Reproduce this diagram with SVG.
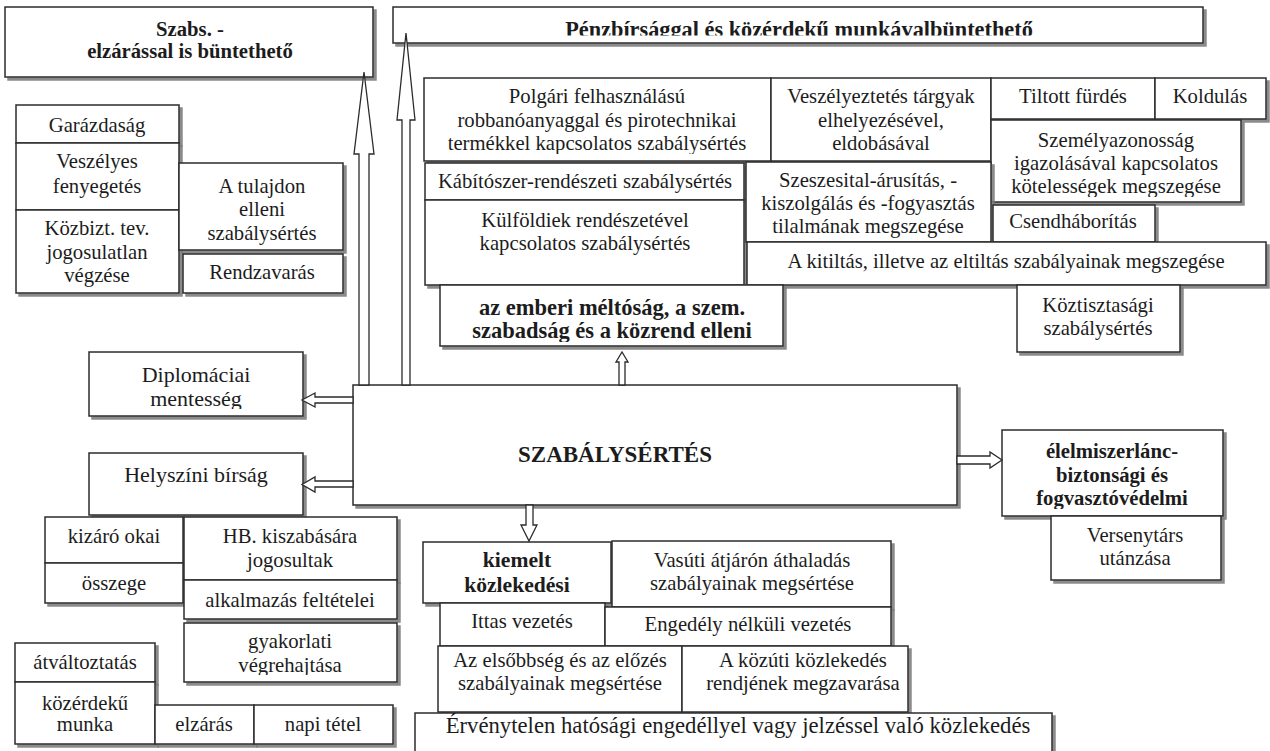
<svg xmlns="http://www.w3.org/2000/svg" width="1270" height="751" viewBox="0 0 1270 751">
<defs>
<filter id="sh" x="-5%" y="-5%" width="115%" height="130%">
<feDropShadow dx="3" dy="3" stdDeviation="0.7" flood-color="#777" flood-opacity="0.85"/>
</filter>
<clipPath id="cp-penz"><rect x="393" y="7" width="810" height="28.5"/></clipPath>
<clipPath id="cp-polgari"><rect x="424" y="78" width="347" height="76"/></clipPath>
<clipPath id="cp-szemely"><rect x="991" y="120" width="250" height="77"/></clipPath>
<clipPath id="cp-emberi"><rect x="440" y="285" width="343" height="57"/></clipPath>
<clipPath id="cp-elelm"><rect x="1002" y="430" width="221" height="79"/></clipPath>
<clipPath id="cp-diplo"><rect x="89" y="352" width="214" height="57"/></clipPath>
<clipPath id="cp-gyak"><rect x="184" y="623" width="213" height="52"/></clipPath>
</defs>
<style>
.box{fill:#fff;stroke:#2b2b2b;stroke-width:1.5;filter:url(#sh)}
.t{font-family:"Liberation Serif","Times New Roman",serif;font-size:20.7px;fill:#1c1c1c;text-anchor:middle}
.b{font-weight:bold}
.big{font-size:23px}
.l22{font-size:22px}
.arr{fill:#fff;stroke:#2b2b2b;stroke-width:1.3;stroke-linejoin:miter}
</style>
<rect x="0" y="0" width="1270" height="751" fill="#fff"/>

<g id="nodes">
<g id="n-szabs"><rect class="box" x="5" y="7" width="368" height="70"/>
<text class="t b" x="190" y="36">Szabs. -</text><text class="t b" x="190" y="58">elzárással is büntethető</text></g>

<g id="n-penz"><rect class="box" x="393" y="7" width="810" height="36"/>
<text class="t b" x="799" y="37" style="font-size:22.3px" clip-path="url(#cp-penz)">Pénzbírsággal és közérdekű munkávalbüntethető</text></g>

<g id="n-garazdasag"><rect class="box" x="16" y="105" width="163" height="38"/>
<text class="t" x="97" y="132">Garázdaság</text></g>
<g id="n-veszelyes"><rect class="box" x="16" y="143" width="163" height="67"/>
<text class="t" x="97" y="168">Veszélyes</text><text class="t" x="97" y="193">fenyegetés</text></g>
<g id="n-kozbizt"><rect class="box" x="16" y="210" width="163" height="83"/>
<text class="t" x="97" y="235">Közbizt. tev.</text><text class="t" x="97" y="259">jogosulatlan</text><text class="t" x="97" y="282">végzése</text></g>
<g id="n-tulajdon"><rect class="box" x="179" y="163" width="164" height="87"/>
<text class="t" x="262" y="193">A tulajdon</text><text class="t" x="262" y="216">elleni</text><text class="t" x="262" y="240">szabálysértés</text></g>
<g id="n-rendzavaras"><rect class="box" x="183" y="254" width="160" height="39"/>
<text class="t" x="262" y="279">Rendzavarás</text></g>

<g id="n-polgari"><rect class="box" x="424" y="78" width="347" height="83"/>
<g clip-path="url(#cp-polgari)"><text class="t" x="597" y="103">Polgári felhasználású</text><text class="t" x="597" y="127">robbanóanyaggal és pirotechnikai</text><text class="t" x="597" y="150">termékkel kapcsolatos szabálysértés</text></g></g>
<g id="n-veszelyeztetes"><rect class="box" x="771" y="78" width="220" height="83"/>
<text class="t" x="881" y="103">Veszélyeztetés tárgyak</text><text class="t" x="881" y="127">elhelyezésével,</text><text class="t" x="881" y="150">eldobásával</text></g>
<g id="n-tiltott"><rect class="box" x="991" y="78" width="164" height="41"/>
<text class="t" x="1073" y="103">Tiltott fürdés</text></g>
<g id="n-koldulas"><rect class="box" x="1155" y="78" width="111" height="41"/>
<text class="t" x="1210" y="103">Koldulás</text></g>
<g id="n-szemely"><rect class="box" x="991" y="120" width="250" height="82"/>
<g clip-path="url(#cp-szemely)"><text class="t" x="1116" y="147">Személyazonosság</text><text class="t" x="1116" y="170">igazolásával kapcsolatos</text><text class="t" x="1116" y="193">kötelességek megszegése</text></g></g>
<g id="n-kabitoszer"><rect class="box" x="425" y="163" width="319" height="37"/>
<text class="t" x="585" y="188">Kábítószer-rendészeti szabálysértés</text></g>
<g id="n-kulfoldiek"><rect class="box" x="425" y="200" width="319" height="85"/>
<text class="t" x="585" y="227">Külföldiek rendészetével</text><text class="t" x="585" y="250">kapcsolatos szabálysértés</text></g>
<g id="n-szeszesital"><rect class="box" x="746" y="162" width="245" height="80"/>
<text class="t" x="868" y="187">Szeszesital-árusítás, -</text><text class="t" x="868" y="210">kiszolgálás és -fogyasztás</text><text class="t" x="868" y="233">tilalmának megszegése</text></g>
<g id="n-csend"><rect class="box" x="993" y="205" width="162" height="37"/>
<text class="t" x="1073" y="228">Csendháborítás</text></g>
<g id="n-kitiltas"><rect class="box" x="747" y="242" width="519" height="43"/>
<text class="t" x="1006" y="268">A kitiltás, illetve az eltiltás szabályainak megszegése</text></g>
<g id="n-koztisztasagi"><rect class="box" x="1017" y="285" width="163" height="67"/>
<text class="t" x="1098" y="312">Köztisztasági</text><text class="t" x="1098" y="335">szabálysértés</text></g>
<g id="n-emberi"><rect class="box" x="440" y="285" width="343" height="61"/>
<g clip-path="url(#cp-emberi)"><text class="t b" x="612" y="315" style="font-size:22.5px">az emberi méltóság, a szem.</text><text class="t b" x="612" y="338" style="font-size:22.5px">szabadság és a közrend elleni</text></g></g>

<g id="n-diplomaciai"><rect class="box" x="89" y="352" width="214" height="64"/>
<g clip-path="url(#cp-diplo)"><text class="t l22" x="196" y="382">Diplomáciai</text><text class="t l22" x="196" y="406">mentesség</text></g></g>
<g id="n-main"><rect class="box" x="353" y="385" width="604" height="120"/>
<text class="t b big" x="615" y="462">SZABÁLYSÉRTÉS</text></g>
<g id="n-helyszini"><rect class="box" x="89" y="453" width="214" height="62"/>
<text class="t l22" x="196" y="482">Helyszíni bírság</text></g>
<g id="n-kizaro"><rect class="box" x="45" y="517" width="138" height="46"/>
<text class="t" x="114" y="543">kizáró okai</text></g>
<g id="n-osszege"><rect class="box" x="45" y="563" width="138" height="40"/>
<text class="t" x="114" y="590">összege</text></g>
<g id="n-hb"><rect class="box" x="184" y="517" width="213" height="63"/>
<text class="t" x="290" y="543">HB. kiszabására</text><text class="t" x="290" y="567">jogosultak</text></g>
<g id="n-alkalmazas"><rect class="box" x="184" y="580" width="213" height="39"/>
<text class="t" x="290" y="607">alkalmazás feltételei</text></g>
<g id="n-gyakorlati"><rect class="box" x="184" y="623" width="213" height="59"/>
<g clip-path="url(#cp-gyak)"><text class="t" x="290" y="648">gyakorlati</text><text class="t" x="290" y="672">végrehajtása</text></g></g>
<g id="n-atvaltoztatas"><rect class="box" x="15" y="643" width="140" height="39"/>
<text class="t" x="85" y="669">átváltoztatás</text></g>
<g id="n-kozerdeku"><rect class="box" x="15" y="682" width="140" height="62"/>
<text class="t" x="85" y="710">közérdekű</text><text class="t" x="85" y="731">munka</text></g>
<g id="n-elzaras"><rect class="box" x="155" y="705" width="99" height="39"/>
<text class="t" x="204" y="731">elzárás</text></g>
<g id="n-napi"><rect class="box" x="254" y="705" width="139" height="39"/>
<text class="t" x="323" y="731">napi tétel</text></g>

<g id="n-elelmiszer"><rect class="box" x="1002" y="430" width="221" height="86"/>
<g clip-path="url(#cp-elelm)"><text class="t b" x="1112" y="458">élelmiszerlánc-</text><text class="t b" x="1112" y="482">biztonsági és</text><text class="t b" x="1112" y="505">fogvasztóvédelmi</text></g></g>
<g id="n-versenytars"><rect class="box" x="1051" y="516" width="170" height="64"/>
<text class="t" x="1135" y="542">Versenytárs</text><text class="t" x="1135" y="565">utánzása</text></g>

<g id="n-kiemelt"><rect class="box" x="423" y="542" width="188" height="61"/>
<text class="t b" x="517" y="567" style="font-size:21.6px">kiemelt</text><text class="t b" x="517" y="592" style="font-size:21.6px">közlekedési</text></g>
<g id="n-vasuti"><rect class="box" x="612" y="541" width="279" height="66"/>
<text class="t" x="752" y="567">Vasúti átjárón áthaladás</text><text class="t" x="752" y="590">szabályainak megsértése</text></g>
<g id="n-ittas"><rect class="box" x="440" y="603" width="165" height="43"/>
<text class="t" x="522" y="628">Ittas vezetés</text></g>
<g id="n-engedely"><rect class="box" x="605" y="607" width="286" height="39"/>
<text class="t" x="748" y="631">Engedély nélküli vezetés</text></g>
<g id="n-elsobbseg"><rect class="box" x="438" y="646" width="244" height="66"/>
<text class="t" x="560" y="667">Az elsőbbség és az előzés</text><text class="t" x="560" y="690">szabályainak megsértése</text></g>
<g id="n-kozuti"><rect class="box" x="682" y="646" width="226" height="66"/>
<text class="t" x="803" y="667">A közúti közlekedés</text><text class="t" x="803" y="690">rendjének megzavarása</text></g>
<g id="n-ervenytelen"><rect class="box" x="415" y="713" width="637" height="50"/>
<text class="t" x="738" y="733" style="font-size:22.7px">Érvénytelen hatósági engedéllyel vagy jelzéssel való közlekedés</text></g>
</g>

<g id="connectors">
<polygon class="arr" points="359,385 359,154 354,154 364,72 374,154 369,154 369,385"/>
<polygon class="arr" points="402,385 402,120 397,120 406,33 415,120 410,120 410,385"/>
<polygon class="arr" points="353,397 315,397 315,393 302,400 315,407 315,403 353,403"/>
<polygon class="arr" points="353,481 315,481 315,477 302,484.5 315,492 315,487 353,487"/>
<polygon class="arr" points="619,385 619,362 616,362 622,352 628,362 625,362 625,385"/>
<polygon class="arr" points="526,505 526,525 521,525 529,541 537,525 533,525 533,505"/>
<polygon class="arr" points="957,456 990,456 990,452 1002,460 990,468 990,464 957,464"/>
</g>
</svg>
